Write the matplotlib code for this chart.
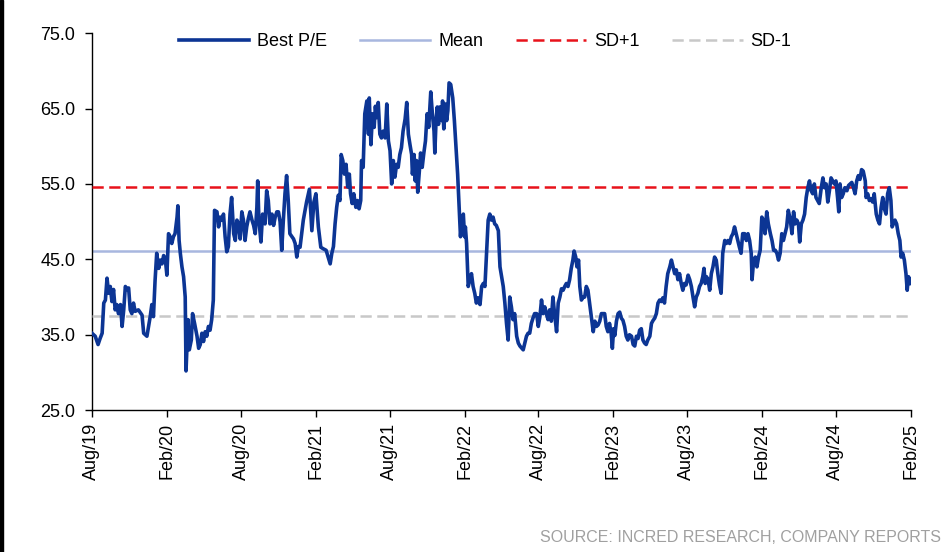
import pandas as pd
import matplotlib
matplotlib.use("Agg")
from matplotlib import pyplot as plt
import matplotlib.dates as mdates

# days since 1 Aug 2019 and Best P/E readings
days = [
    0, 8, 15, 20, 25, 29, 33, 37, 41, 45,
    49, 53, 57, 61, 65, 70, 74, 78, 82, 86,
    90, 94, 98, 102, 106, 114, 123, 127, 135, 139,
    143, 147, 151, 155, 159, 164, 168, 172, 176, 180,
    184, 188, 192, 196, 200, 204, 209, 211, 214, 217,
    221, 225, 229, 231, 236, 239, 244, 247, 252, 258,
    262, 266, 270, 274, 278, 282, 286, 290, 294, 298,
    301, 307, 311, 315, 319, 323, 327, 331, 335, 339,
    343, 348, 352, 356, 360, 364, 368, 372, 376, 380,
    384, 388, 393, 397, 401, 405, 407, 410, 415, 419,
    425, 429, 433, 437, 442, 446, 450, 454, 458, 462,
    466, 470, 474, 478, 482, 486, 491, 495, 499, 503,
    507,
    511, 519, 527, 534, 540, 545, 550, 556, 562, 568,
    575, 581, 585, 589, 593, 597, 601, 605, 609, 612,
    616, 620, 624, 628, 632, 635, 639, 643, 648, 652,
    656, 660, 662, 666, 670, 675, 679, 681, 685, 689,
    693, 696, 699, 703, 707, 711, 715, 720, 724, 728,
    732, 736, 740, 744, 748, 752, 756, 760, 764, 769,
    773, 777, 781, 785, 787, 791, 794, 797, 800, 804,
    807, 811, 815, 819, 823, 827, 830, 832, 836, 840,
    842, 845, 848, 851, 854, 859, 861, 864, 868, 871,
    874, 877, 881, 886, 890, 894, 898, 902, 905, 908,
    912, 915, 917, 920, 924, 928, 932, 936, 940, 944,
    948, 953, 957, 961, 965, 969, 973, 977, 981, 985,
    989, 993, 998, 1002, 1006, 1010, 1014, 1018, 1022, 1026,
    1030, 1034, 1038, 1043, 1047,
    1051, 1059, 1067, 1071, 1075, 1079, 1083, 1087, 1092, 1096,
    1100, 1104, 1108, 1112, 1116, 1120, 1124, 1128, 1132, 1136,
    1141, 1145, 1149, 1153, 1157, 1161, 1165, 1169, 1173, 1177,
    1181, 1184, 1188, 1191, 1195, 1198, 1202, 1206, 1210, 1214,
    1218, 1222, 1226, 1231, 1235, 1239, 1243, 1247, 1251, 1255,
    1259, 1263, 1267, 1271, 1275, 1278, 1281, 1284, 1288, 1292,
    1296, 1300, 1304, 1308, 1312, 1316, 1320, 1325, 1329, 1333,
    1337, 1341, 1345, 1349, 1353, 1357, 1361, 1365, 1370, 1374,
    1378, 1382, 1386, 1390, 1394, 1398, 1402, 1406, 1410, 1414,
    1419, 1423, 1427, 1431, 1435, 1439, 1443, 1447, 1451, 1455,
    1459, 1464, 1468, 1472, 1476, 1480, 1484, 1488, 1492, 1496,
    1500, 1503, 1506, 1509, 1513, 1517, 1521, 1525, 1529, 1533,
    1537,
    1541, 1545, 1549, 1554, 1558, 1562, 1566, 1570, 1574, 1578,
    1582, 1586, 1590, 1594, 1598, 1603, 1607, 1611, 1615, 1619,
    1621, 1625, 1629, 1633, 1637, 1641, 1645, 1649, 1653, 1657,
    1661, 1666, 1670, 1674, 1678, 1682, 1686, 1690, 1694, 1698,
    1702, 1706, 1710, 1715, 1719, 1723, 1727, 1731, 1735, 1738,
    1742, 1746, 1750, 1754, 1758, 1762, 1766, 1770, 1774, 1778,
    1782, 1786, 1791, 1795, 1799, 1803, 1807, 1811, 1815, 1819,
    1823, 1827, 1831, 1834, 1837, 1841, 1845, 1849, 1854, 1858,
    1862, 1866, 1870, 1874, 1878, 1882, 1886, 1890, 1894, 1899,
    1901, 1905, 1909, 1913, 1917, 1921, 1926, 1930, 1934, 1938,
    1942, 1946, 1950, 1954, 1958, 1962, 1965, 1968, 1972, 1976,
    1980, 1984, 1987, 1991, 1995, 1999, 2002, 2005, 2009, 2011,
]
best_pe = [
    35.2, 34.8, 33.7, 34.5, 35.2, 39.2, 39.6, 42.5, 40.5, 41.4,
    39.4, 41.0, 38.3, 39.0, 37.8, 39.0, 36.1, 38.3, 41.4, 41.0,
    41.2, 38.3, 37.8, 39.2, 38.1, 38.3, 37.6, 35.2, 34.8, 36.1,
    37.4, 39.0, 37.4, 42.2, 45.8, 43.8, 44.9, 44.4, 45.5, 45.1,
    42.9, 48.4, 48.0, 47.1, 48.0, 48.4, 50.6, 52.1, 47.5, 45.8,
    44.0, 42.7, 40.0, 30.2, 37.0, 33.0, 34.3, 37.8, 36.5, 34.8,
    33.2, 33.7, 35.2, 34.1, 35.4, 34.8, 36.1, 35.6, 37.0, 39.6,
    51.5, 51.3, 49.3, 50.6, 50.2, 51.0, 48.0, 46.0, 46.7, 51.0,
    53.2, 48.4, 47.5, 50.2, 49.7, 47.7, 51.3, 50.2, 47.5, 49.3,
    50.4, 51.3, 50.2, 49.5, 48.4, 51.9, 55.4, 50.2, 47.3, 51.0,
    49.7, 54.1, 52.8, 49.7, 51.0, 49.5, 50.6, 51.3, 51.3, 50.0,
    46.2, 50.2, 53.7, 56.1, 52.8, 48.4, 48.0, 47.7, 47.1, 45.3,
    46.7,
    46.6, 50.2, 52.6, 54.3, 48.8, 52.6, 53.7, 49.3, 46.6, 46.4,
    46.2, 45.1, 44.4, 45.8, 46.7, 49.7, 51.9, 53.5, 52.8, 58.9,
    58.1, 56.3, 57.6, 54.6, 56.3, 53.7, 52.4, 53.7, 51.9, 52.8,
    51.7, 52.8, 58.1, 57.2, 64.3, 66.0, 61.6, 66.4, 60.2, 64.3,
    62.5, 65.3, 63.8, 65.8, 61.6, 61.1, 62.0, 61.1, 65.6, 60.7,
    59.4, 55.0, 58.1, 55.9, 57.6, 57.2, 58.9, 59.8, 62.0, 63.6,
    65.8, 61.6, 60.2, 58.9, 56.3, 58.9, 55.4, 58.1, 53.9, 56.7,
    59.1, 57.2, 59.1, 60.7, 64.3, 62.5, 65.2, 67.2, 64.3, 62.0,
    59.1, 63.4, 65.2, 62.9, 65.2, 63.4, 66.0, 62.3, 65.6, 63.4,
    64.7, 68.4, 68.2, 66.4, 63.4, 59.8, 56.3, 51.5, 48.0, 50.2,
    51.0, 48.0, 49.3, 47.1, 41.4, 42.3, 43.1, 41.4, 40.5, 39.2,
    39.9, 39.0, 41.4, 41.8, 41.4, 45.8, 50.2, 51.0, 50.2, 50.6,
    49.7, 49.5, 48.8, 44.0, 42.7, 41.4, 39.2, 36.5, 34.3, 40.0,
    38.7, 37.0, 37.8, 34.8, 33.9,
    33.5, 33.0, 34.8, 35.2, 35.2, 36.5, 37.2, 37.8, 37.8, 36.1,
    37.4, 39.6, 37.8, 38.7, 37.8, 37.0, 38.3, 36.8, 40.0, 37.8,
    35.4, 39.2, 40.0, 41.1, 40.9, 41.4, 41.8, 41.4, 42.3, 43.8,
    44.9, 46.1, 45.3, 44.0, 44.9, 41.4, 39.6, 40.0, 40.0, 41.4,
    40.9, 39.2, 37.6, 35.4, 36.8, 36.1, 36.3, 36.8, 37.8, 37.8,
    37.8, 36.1, 35.4, 36.5, 35.2, 33.2, 35.8, 34.9, 36.8, 37.8,
    38.0, 37.2, 36.9, 36.1, 34.8, 34.3, 35.0, 34.8, 33.7, 33.5,
    34.8, 34.5, 35.6, 35.8, 34.3, 33.9, 33.7, 34.3, 34.8, 36.5,
    36.9, 37.2, 37.8, 39.2, 39.6, 39.4, 39.9, 39.2, 41.4, 43.1,
    44.0, 44.9, 44.0, 43.1, 43.6, 42.3, 43.1, 41.8, 40.9, 41.8,
    41.6, 42.9, 42.3, 41.4, 40.0, 38.7, 40.0, 40.5, 41.4, 41.8,
    42.7, 43.8, 41.8, 42.7, 42.3, 40.9, 43.1, 44.0, 45.3, 44.9,
    43.1,
    41.6, 40.5, 45.8, 47.5, 47.1, 47.5, 47.1, 48.0, 48.4, 49.3,
    48.4, 47.5, 46.6, 45.8, 48.4, 48.4, 47.5, 48.4, 47.5, 45.8,
    42.3, 44.9, 45.3, 44.0, 45.3, 46.2, 50.6, 50.2, 48.4, 51.3,
    49.7, 48.4, 47.5, 46.2, 46.2, 45.8, 44.9, 45.8, 48.4, 47.5,
    48.4, 49.3, 51.5, 50.2, 48.4, 51.3, 49.7, 50.2, 49.7, 47.3,
    49.7, 50.2, 51.0, 53.2, 54.5, 55.4, 54.1, 53.7, 55.0, 53.2,
    52.8, 52.4, 54.5, 55.8, 54.5, 55.0, 52.6, 54.1, 55.8, 55.4,
    55.0, 55.4, 53.2, 51.3, 55.0, 53.2, 53.7, 54.5, 54.1, 54.8,
    55.0, 55.2, 54.5, 53.7, 55.4, 56.1, 55.6, 56.9, 56.7, 55.4,
    53.2, 53.7, 52.8, 53.0, 52.6, 53.7, 51.0, 50.2, 49.7, 51.9,
    53.2, 51.7, 51.0, 53.7, 54.5, 52.8, 49.3, 49.7, 50.2, 49.7,
    48.4, 47.5, 45.3, 45.8, 44.9, 43.1, 40.9, 42.7, 42.3, 41.8,
]
mean_pe = 46.1
sd_plus1 = 54.6
sd_minus1 = 37.5

start = pd.Timestamp("2019-08-01")
end = pd.Timestamp("2025-02-01")
dates = start + pd.to_timedelta(days, unit="D")
tick_dates = pd.date_range(start, end, freq="6MS")

plt.rcParams["font.family"] = ["Liberation Sans", "DejaVu Sans"]

fig = plt.figure(figsize=(9.5, 5.52), dpi=100)
ax = fig.add_axes([0.0968, 0.257, 0.862, 0.683])

ax.plot(dates, best_pe, color="#0C3594", lw=2.6, label="Best P/E", zorder=4)
ax.axhline(mean_pe, color="#A8B7DF", lw=1.8, label="Mean", zorder=2)
ax.axhline(sd_plus1, color="#E8121B", lw=1.8, ls=(0, (4.5, 2.2)), label="SD+1", zorder=3)
ax.axhline(sd_minus1, color="#C8C8C8", lw=1.8, ls=(0, (4.5, 2.2)), label="SD-1", zorder=3)

ax.set_ylim(25, 75)
ax.set_yticks([25, 35, 45, 55, 65, 75])
ax.yaxis.set_major_formatter(matplotlib.ticker.FormatStrFormatter("%.1f"))
ax.set_xlim(start, end)
ax.set_xticks(tick_dates)
ax.xaxis.set_major_formatter(mdates.DateFormatter("%b/%y"))
plt.setp(ax.get_xticklabels(), rotation=90)

for s in ["top", "right"]:
    ax.spines[s].set_visible(False)
ax.spines["left"].set_linewidth(1.0)
ax.spines["bottom"].set_linewidth(1.0)
ax.tick_params(axis="both", labelsize=13, length=5, width=1.0, direction="out")
ax.tick_params(axis="y", pad=7)
ax.tick_params(axis="x", pad=4)

ax.legend(loc="center", bbox_to_anchor=(0.48, 0.978), ncol=4, frameon=False,
          fontsize=13, handlelength=3.9, handletextpad=0.45, columnspacing=1.8)

fig.text(0.99, 0.012, "SOURCE: INCRED RESEARCH, COMPANY REPORTS", ha="right", va="bottom",
         fontsize=11.5, color="#A0A0A0")
fig.add_artist(plt.Rectangle((0, 0), 3 / 950, 1, transform=fig.transFigure, color="black"))

fig.savefig("out.png", dpi=100)
